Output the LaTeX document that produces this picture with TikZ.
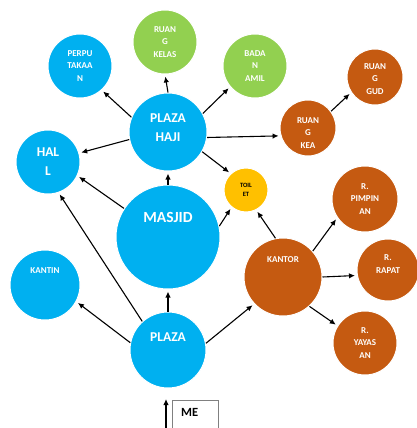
\documentclass[tikz,border=0pt]{standalone}
\usepackage{fontspec}
\setmainfont{Carlito}
\usetikzlibrary{arrows.meta}
\definecolor{skyblue}{HTML}{00B0F0}
\definecolor{leafgreen}{HTML}{92D050}
\definecolor{rust}{HTML}{C55A11}
\definecolor{amber}{HTML}{FFC000}

\begin{document}
\begin{tikzpicture}[
    x=1pt, y=-1pt,
    room/.style={
        circle,
        draw=white,
        line width=1pt,
        inner sep=0pt,
        align=center,
        text=white,
        font=\fontsize{9}{12.5}\selectfont\bfseries
    },
    hub/.style={
        room,
        font=\fontsize{13.5}{19}\selectfont\bfseries
    },
    tag/.style={
        text=white,
        align=center,
        inner sep=0pt,
        font=\fontsize{9}{12.5}\selectfont\bfseries
    },
    bigtag/.style={
        tag,
        font=\fontsize{13.5}{19}\selectfont\bfseries
    },
    link/.style={-{Latex[length=6pt,width=5.5pt]}, line width=1.1pt, shorten >=2pt}
]
    \useasboundingbox (0,0) rectangle (417,428);
    \clip (0,0) rectangle (417,428);

    % --- TOP GROUP ---
    \node [room, fill=skyblue, minimum size=64pt] (perpus) at (80,66) {PERPU\\TAKAA\\N};
    \node [room, fill=leafgreen, minimum size=64pt] (kelas) at (165,42) {RUAN\\G\\KELAS};
    \node [room, fill=leafgreen, minimum size=64pt] (amil) at (255,66) {BADA\\N\\AMIL};
    \node [room, fill=skyblue, minimum size=78pt,
           label={[bigtag, yshift=4pt]center:PLAZA\\HAJI}] (plazahaji) at (168,132) {};
    \node [hub, fill=skyblue, minimum size=64pt] (hall) at (48,162) {HAL\\L};

    % --- RIGHT TOP (orange) ---
    \node [room, fill=rust, minimum size=56pt,
           label={[tag, yshift=-2pt]center:RUAN\\G\\GUD}] (gudang) at (375,77) {};
    \node [room, fill=rust, minimum size=56pt,
           label={[tag, yshift=-5pt]center:RUAN\\G\\KEA}] (kea) at (308,128) {};

    % --- MIDDLE ---
    \node [room, fill=amber, minimum size=44pt, text=black,
           font=\fontsize{6.5}{9}\selectfont\bfseries] (toilet) at (246,190) {TOIL\\ET};
    \node [room, fill=skyblue, minimum size=104pt,
           label={[bigtag, font=\fontsize{15.5}{19}\selectfont\bfseries, yshift=20pt]center:MASJID}] (masjid) at (168,237) {};
    \node [room, fill=skyblue, minimum size=70pt,
           label={[tag, yshift=14pt]center:KANTIN}] (kantin) at (45,285) {};
    \node [room, fill=skyblue, minimum size=76pt,
           label={[bigtag, yshift=13pt]center:PLAZA}] (plaza) at (168,350) {};

    % --- OFFICE GROUP (orange) ---
    \node [room, fill=rust, minimum size=78pt,
           label={[tag, yshift=17pt]center:KANTOR}] (kantor) at (283,277) {};
    \node [room, fill=rust, minimum size=66pt] (pimpinan) at (365,199) {R.\\PIMPIN\\AN};
    \node [room, fill=rust, minimum size=62pt,
           label={[tag, yshift=6pt]center:R.\\RAPAT}] (rapat) at (388,270) {};
    \node [room, fill=rust, minimum size=64pt] (yayasan) at (365,343) {R.\\YAYAS\\AN};

    % --- ENTRANCE ---
    \node [draw=gray, line width=0.8pt, minimum width=46pt, minimum height=40pt,
           anchor=north west,
           label={[anchor=north west, inner sep=0pt, xshift=9pt, yshift=-8pt,
                   font=\fontsize{12.5}{14}\selectfont\bfseries]north west:ME}] (menara) at (172,400) {};
    \coordinate (entry) at (166,440);
    \coordinate (gate) at (166,397);

    % --- ARROWS ---
    % Plaza Haji outwards
    \draw [link] (plazahaji.158) -- (perpus.-48);
    \draw [link] (plazahaji.north) -- (kelas.south);
    \draw [link] (plazahaji.28) -- (amil.220);
    \draw [link] (plazahaji.-8) -- (kea.196);
    \draw [link] (plazahaji.-30) -- (toilet.133);
    \draw [link] (plazahaji.191) -- (hall.16);
    \draw [link] (kea.36) -- (gudang.213);

    % Masjid
    \draw [link] (masjid.north) -- (plazahaji.south);
    \draw [link] (masjid.147) -- (hall.-25);
    \draw [link] (masjid.12) -- (toilet.230);

    % Plaza
    \draw [link] (plaza.north) -- (masjid.south);
    \draw [link] (plaza.132) -- (hall.-71);
    \draw [link] (plaza.169) -- (kantin.-28);
    \draw [link] (plaza.10) -- (kantor.223);

    % Kantor
    \draw [link] (kantor.101) -- (toilet.-63);
    \draw [link] (kantor.41) -- (pimpinan.214);
    \draw [link] (kantor.0) -- (rapat.190);
    \draw [link] (kantor.-48) -- (yayasan.148);

    % Entrance
    \draw [link] (entry) -- (gate);

\end{tikzpicture}
\end{document}
